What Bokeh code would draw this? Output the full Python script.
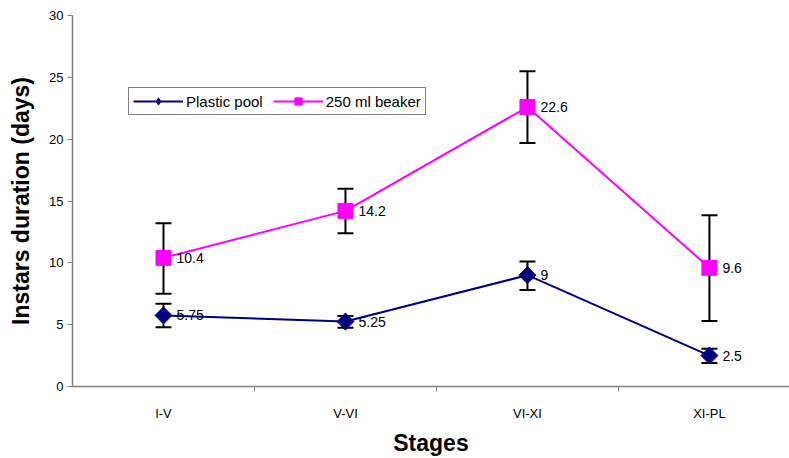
import math
from bokeh.plotting import figure
from bokeh.models import FixedTicker, Range1d, Legend, LegendItem, Whisker, ColumnDataSource
from bokeh.embed import file_html
from bokeh.resources import INLINE

stages = ["I-V", "V-VI", "VI-XI", "XI-PL"]
pool = [5.75, 5.25, 9, 2.5]
pool_hi = [6.7, 5.7, 10.1, 3.05]
pool_lo = [4.8, 4.75, 7.8, 1.9]
beaker = [10.4, 14.2, 22.6, 9.6]
beaker_hi = [13.2, 16.0, 25.5, 13.85]
beaker_lo = [7.5, 12.4, 19.7, 5.3]
pool_labels = ["5.75", "5.25", "9", "2.5"]
beaker_labels = ["10.4", "14.2", "22.6", "9.6"]

FONT = "Liberation Sans"
xs = list(range(len(stages)))

p = figure(width=789, height=458, output_backend="svg", toolbar_location=None,
           x_range=Range1d(-0.5, 3.44), y_range=Range1d(0, 30),
           min_border_left=72, min_border_right=0, min_border_top=15, min_border_bottom=71)
p.outline_line_color = None
p.grid.visible = False
p.background_fill_color = "white"

# axes
p.xaxis.ticker = FixedTicker(ticks=xs, minor_ticks=[0.5, 1.5, 2.5])
p.xaxis.major_label_overrides = {i: s for i, s in enumerate(stages)}
p.xaxis.major_tick_line_color = None
p.xaxis.minor_tick_line_color = "#808080"
p.xaxis.minor_tick_out = 5
p.xaxis.minor_tick_in = 0
p.xaxis.major_label_standoff = 13
p.xaxis.axis_line_color = "#808080"
p.xaxis.axis_line_width = 1.5
p.xaxis.major_label_text_font = FONT
p.xaxis.major_label_text_font_size = "13px"
p.xaxis.major_label_text_color = "black"
p.xaxis.axis_label = "Stages"
p.xaxis.axis_label_text_font = FONT
p.xaxis.axis_label_text_font_size = "23px"
p.xaxis.axis_label_text_font_style = "bold"
p.xaxis.axis_label_text_color = "black"
p.xaxis.axis_label_standoff = 6

p.yaxis.ticker = FixedTicker(ticks=[0, 5, 10, 15, 20, 25, 30])
p.yaxis.minor_tick_line_color = None
p.yaxis.major_tick_out = 5
p.yaxis.major_tick_in = 0
p.yaxis.major_tick_line_color = "#808080"
p.yaxis.axis_line_color = "#808080"
p.yaxis.axis_line_width = 1.5
p.yaxis.major_label_text_font = FONT
p.yaxis.major_label_text_font_size = "13px"
p.yaxis.major_label_text_color = "black"
p.yaxis.major_label_standoff = 4
p.yaxis.axis_label = "Instars duration (days)"
p.yaxis.axis_label_text_font = FONT
p.yaxis.axis_label_text_font_size = "23px"
p.yaxis.axis_label_text_font_style = "bold"
p.yaxis.axis_label_text_color = "black"
p.yaxis.axis_label_standoff = 12

src_p = ColumnDataSource(dict(x=xs, y=pool, hi=pool_hi, lo=pool_lo, t=pool_labels))
src_b = ColumnDataSource(dict(x=xs, y=beaker, hi=beaker_hi, lo=beaker_lo, t=beaker_labels))

for src in (src_b, src_p):
    w = Whisker(source=src, base="x", upper="hi", lower="lo", line_color="black", line_width=2)
    for h in (w.upper_head, w.lower_head):
        h.size = 16
        h.line_color = "black"
        h.line_width = 2
    p.add_layout(w)

lb = p.line("x", "y", source=src_b, line_color="#FF00FF", line_width=2)
sb = p.scatter("x", "y", source=src_b, marker="square", size=15, fill_color="#FF00FF", line_color="#FF00FF")
lp = p.line("x", "y", source=src_p, line_color="#000080", line_width=2)
# diamond used for the legend symbol, covered on the plot by the rotated square
sp_leg = p.scatter("x", "y", source=src_p, marker="diamond", size=16, fill_color="#000080", line_color="#000080")
sp = p.scatter("x", "y", source=src_p, marker="square", angle=math.pi / 4, size=12,
               fill_color="#000080", line_color="#000080")

for src in (src_b, src_p):
    p.text("x", "y", text="t", source=src, x_offset=13, text_baseline="middle",
           text_font_size="14px", text_color="black", text_font={"value": FONT})

legend = Legend(items=[LegendItem(label="Plastic pool", renderers=[lp, sp_leg]),
                       LegendItem(label="250 ml beaker", renderers=[lb, sb])],
                orientation="horizontal", location=(56, 271),
                border_line_color="black", border_line_width=1,
                label_text_font=FONT, label_text_font_size="15px", label_text_color="black",
                glyph_width=50, glyph_height=18, label_standoff=3, spacing=10,
                padding=4, margin=0, label_height=18)
p.add_layout(legend, "center")

open("out.html", "w").write(file_html(p, INLINE))
